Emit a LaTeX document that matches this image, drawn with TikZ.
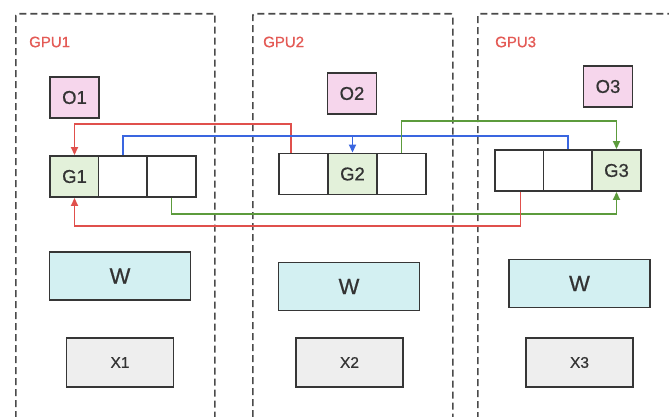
\documentclass[tikz,border=0pt]{standalone}
\usepackage{fontspec}
\setmainfont{Liberation Sans}[FakeBold=0.6]
\newfontfamily\medfont{Liberation Sans}[FakeBold=0.7]
\usetikzlibrary{arrows.meta}
\definecolor{bordc}{HTML}{363636}
\definecolor{dashc}{HTML}{4A4A4A}
\definecolor{pinkf}{HTML}{F6D6EC}
\definecolor{greenf}{HTML}{E3F1DA}
\definecolor{cyanf}{HTML}{D3F0F2}
\definecolor{grayf}{HTML}{EEEEEE}
\definecolor{gpured}{HTML}{E45A55}
\definecolor{lred}{HTML}{E0504C}
\definecolor{lblue}{HTML}{3A66E0}
\definecolor{lgreen}{HTML}{5C9B3C}
\definecolor{txtc}{HTML}{333333}
\tikzset{
  gpubox/.style={draw=dashc, line width=1.7pt, dash pattern=on 7pt off 4pt, rounded corners=1.5pt, anchor=north west, inner sep=0pt},
  gpulabel/.style={text=gpured, font=\medfont\fontsize{15}{15}\selectfont, anchor=west, inner sep=0pt},
  basebox/.style={draw=bordc, line width=1.9pt, inner sep=0pt, text=txtc},
  obox/.style={basebox, fill=pinkf, minimum width=49pt, minimum height=41pt, font=\medfont\fontsize{18.5}{18.5}\selectfont},
  cellbox/.style={basebox, fill=white, minimum width=49pt, minimum height=41pt, font=\medfont\fontsize{18.5}{18.5}\selectfont},
  gbox/.style={cellbox, fill=greenf},
  wbox/.style={basebox, fill=cyanf, minimum width=141pt, minimum height=48pt, font=\medfont\fontsize{22}{22}\selectfont},
  xbox/.style={basebox, fill=grayf, minimum width=107pt, minimum height=49pt, font=\medfont\fontsize{15.5}{15.5}\selectfont},
  conn/.style={line width=1.7pt},
  tip/.style={-{Triangle[length=8pt,width=7pt]}},
}
\begin{document}
\begin{tikzpicture}[x=1pt,y=-1pt]
\useasboundingbox (0,0) rectangle (669,417);
\clip (0,0) rectangle (669,417);
\fill[white] (0,0) rectangle (669,417);
% GPU containers
\node[gpubox, minimum width=199pt, minimum height=440pt] (gpu1) at (15,13) {};
\node[gpubox, minimum width=200pt, minimum height=440pt] (gpu2) at (252,13) {};
\node[gpubox, minimum width=220pt, minimum height=440pt] (gpu3) at (477,13) {};
\node[gpulabel] (lab1) at (29,42) {GPU1};
\node[gpulabel] (lab2) at (263,42) {GPU2};
\node[gpulabel] (lab3) at (495,42) {GPU3};
% O boxes
\node[obox] (o1) at (74.5,97.5) {O1};
\node[obox] (o2) at (352,93.5) {O2};
\node[obox] (o3) at (608,86.5) {O3};
% G rows
\node[gbox] (g11) at (74.5,176.5) {G1};
\node[cellbox] (g12) at (123,176.5) {};
\node[cellbox] (g13) at (171.5,176.5) {};
\node[cellbox] (g21) at (303.5,174) {};
\node[gbox] (g22) at (352.5,174) {G2};
\node[cellbox] (g23) at (401.5,174) {};
\node[cellbox] (g31) at (519.5,170.5) {};
\node[cellbox] (g32) at (568,170.5) {};
\node[gbox] (g33) at (616.5,170.5) {G3};
% W boxes
\node[wbox] (w1) at (120,276) {W};
\node[wbox] (w2) at (349,286.5) {W};
\node[wbox] (w3) at (579.5,283.5) {W};
% X boxes
\node[xbox] (x1) at (120,362.5) {X1};
\node[xbox] (x2) at (349.5,362.5) {X2};
\node[xbox] (x3) at (579.5,362.5) {X3};
% connectors
\draw[conn, lred, tip] ([xshift=-12.5pt]g21.north) -- ++(0,-28.5) -| (g11.north);
\draw[conn, lblue] (g12.north) -- ++(0,-19) -| (g32.north);
\draw[conn, lblue, tip] (g22.north) ++(0,-17) -- (g22.north);
\draw[conn, lgreen, tip] (g23.north) -- ++(0,-31.5) -| (g33.north);
\draw[conn, lgreen, tip] (g13.south) -- ++(0,16) -| (g33.south);
\draw[conn, lred, tip] ([xshift=1pt]g31.south) -- ++(0,34) -| (g11.south);
\end{tikzpicture}
\end{document}
